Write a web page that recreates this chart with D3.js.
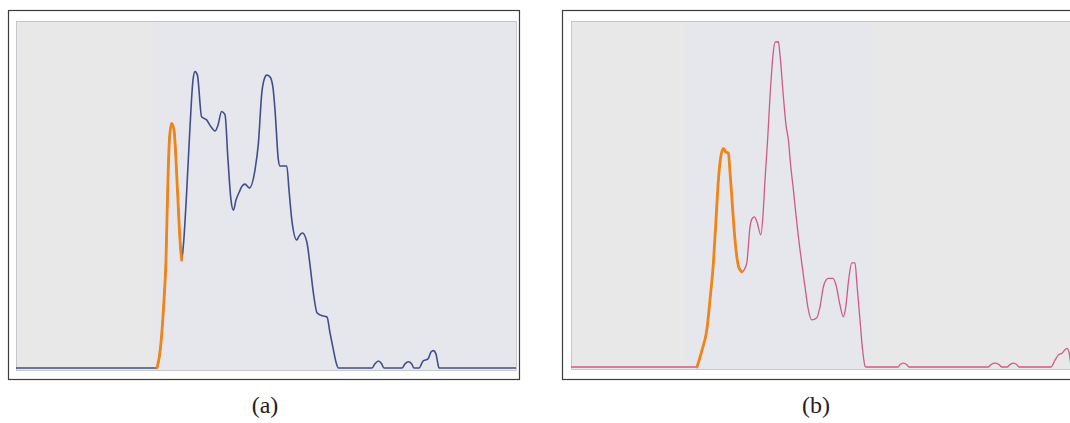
<!DOCTYPE html>
<html>
<head>
<meta charset="utf-8">
<script src="https://cdn.jsdelivr.net/npm/d3@7"></script>
<style>
  html, body { margin: 0; padding: 0; background: #ffffff; }
  svg { display: block; }
</style>
</head>
<body>
<svg id="chart" width="1070" height="423"></svg>
<script>
// Histogram (a): intensity bin and relative count
const binsA = [0, 70.5, 72.3, 74, 75, 75.8, 76.7, 77.8, 79, 80.8, 82, 82.8, 83.7, 85.3, 87, 88.5, 89.5, 90.7,
  92.8, 95.3, 97.5, 99.5, 101, 102.8, 104.5, 106, 107.5, 108.7, 110, 111.7, 113, 114.5, 116.7, 119.5, 121.2,
  122.9, 124, 125.4, 127, 128.5, 129.5, 131.2, 132, 135.4, 136.5, 137.9, 140.4, 141.5, 143.2, 145.4, 147,
  148.7, 150.5, 152, 155.5, 157, 158.7, 160, 161.2, 178, 179.5, 181.2, 182.8, 184, 193, 194.5, 196.2, 197.8,
  199, 201.5, 203.5, 206, 207.5, 208.7, 210, 210.8, 211.5, 250];
const countsA = [0, 0, 6.1, 19.6, 31.1, 50.4, 65.7, 70.5, 68.6, 50.4, 36.9, 31.1, 35.4, 50.4, 69.5, 83, 85.4, 84.4,
  72.4, 71.5, 69.5, 68.3, 70, 73.9, 73, 59.9, 48.4, 45.5, 48.4, 50.8, 52.4, 53, 51.9, 57.1, 64.8,
  79.3, 83, 84.4, 83.9, 80.7, 74.4, 59.9, 58.2, 58.2, 51.3, 42.7, 36.9, 38, 38.9, 36.4, 29.7,
  21.6, 15.9, 15.3, 14.7, 10.1, 5.2, 1.7, 0, 0, 1.2, 2, 1.2, 0, 0, 1.2, 1.8, 1.2,
  0, 0, 2, 2.6, 4.6, 5, 4, 1.7, 0, 0];

// Histogram (b)
const binsB = [0, 63, 65.5, 67.9, 69.5, 71.2, 72.5, 73.7, 74.8, 76.2, 77.5, 78.7, 79.5, 80.4, 81.5, 82.9, 84, 85.4,
  86.5, 87.9, 89.5, 90.5, 91.7, 93, 94.9, 96, 97, 98.3, 99.5, 101, 102, 103.7, 104.5, 106.2, 107.5, 108.7,
  109.8, 111.2, 112.5, 113.7, 115.5, 117, 118.5, 120.4, 122.9, 124.5, 126.2, 127.5, 128.7, 131, 132.5,
  134.5, 136.2, 137.5, 138.8, 140.4, 142, 143, 144.5, 145.8, 147, 147.5, 163.5, 164.5, 166.2, 167.8, 169,
  208.5, 210, 212, 214, 215.5, 218, 219.5, 221.2, 222.8, 224, 240, 242, 243.7, 245.5, 247.9, 249, 250];
const countsB = [0, 0, 4.9, 10.7, 19.4, 30.1, 42.5, 54, 60.4, 63.2, 62.1, 61.8, 56.4, 49.2, 40.2, 31.9, 28.6, 27.5,
  28, 30.1, 40.5, 42.8, 43.4, 41.9, 38.2, 43.9, 54, 65.6, 78.1, 90.2, 93.9, 94, 90.2, 78.1, 69.9, 65.6,
  58.4, 51.2, 43.9, 37.7, 29.5, 23.2, 17.1, 13.6, 14.2, 17.4, 23.2, 25.1, 25.6, 25.6, 23.7,
  17.9, 14.5, 17.9, 25.1, 30.1, 30.1, 23.7, 13.6, 4.9, 0.3, 0, 0, 0.7, 1.1, 0.7, 0,
  0, 0.7, 1.1, 0.7, 0, 0, 0.7, 1.1, 0.7, 0, 0, 2, 3.5, 4, 5.4, 4.3, 0];

// Bin interval of the highlighted first mode in each histogram
const highlightA = [70.5, 82.8];
const highlightB = [63, 85.4];

const panelLabels = ["(a)", "(b)"];
const binDomain = [0, 250];
const countDomain = [0, 100];

const svg = d3.select("#chart");

const panels = [
  { bins: binsA, counts: countsA, hl: highlightA, color: "#434d8c", width: 1.6,
    frame: { x: 8, y: 10, w: 511, h: 369 }, plot: { x: 16, y: 21, w: 500, h: 347 }, labelX: 265,
    tones: [{ from: 0, to: 68.5, fill: "#e8e8e8" }, { from: 68.5, to: 250, fill: "#e5e7ed" }] },
  { bins: binsB, counts: countsB, hl: highlightB, color: "#cd5c80", width: 1.3,
    frame: { x: 562, y: 10, w: 520, h: 369 }, plot: { x: 571, y: 21, w: 500, h: 346 }, labelX: 816,
    tones: [{ from: 0, to: 57.5, fill: "#e8e8e8" }, { from: 57.5, to: 150, fill: "#e5e7ed" }, { from: 150, to: 250, fill: "#e8e8e8" }] }
];

panels.forEach((p, i) => {
  const x = d3.scaleLinear().domain(binDomain).range([p.plot.x, p.plot.x + p.plot.w]);
  const y = d3.scaleLinear().domain(countDomain).range([p.plot.y + p.plot.h, p.plot.y]);

  // outer frame
  svg.append("rect")
    .attr("x", p.frame.x + 0.5).attr("y", p.frame.y + 0.5)
    .attr("width", p.frame.w).attr("height", p.frame.h)
    .attr("fill", "#ffffff").attr("stroke", "#3c3c3c").attr("stroke-width", 1.2);

  // plot background
  const bg = svg.append("g");
  p.tones.forEach(t => {
    bg.append("rect")
      .attr("x", x(t.from)).attr("y", p.plot.y)
      .attr("width", x(t.to) - x(t.from)).attr("height", p.plot.h + 2)
      .attr("fill", t.fill);
  });
  bg.append("rect")
    .attr("x", p.plot.x + 0.5).attr("y", p.plot.y + 0.5)
    .attr("width", p.plot.w).attr("height", p.plot.h + 2)
    .attr("fill", "none").attr("stroke", "#bcbec4").attr("stroke-width", 0.8);

  const pts = p.bins.map((b, k) => [b, p.counts[k]]);
  const line = d3.line()
    .x(d => x(d[0])).y(d => y(d[1]))
    .curve(d3.curveMonotoneX);

  svg.append("path")
    .datum(pts)
    .attr("d", line)
    .attr("fill", "none")
    .attr("stroke", p.color)
    .attr("stroke-width", p.width)
    .attr("stroke-linejoin", "round");

  // first mode drawn in orange
  const hlPts = pts.filter(d => d[0] >= p.hl[0] && d[0] <= p.hl[1]);
  svg.append("path")
    .datum(hlPts)
    .attr("d", line)
    .attr("fill", "none")
    .attr("stroke", "#ef8519")
    .attr("stroke-width", 2.8)
    .attr("stroke-linejoin", "round")
    .attr("stroke-linecap", "round");

  svg.append("text")
    .attr("x", p.labelX).attr("y", 413)
    .attr("text-anchor", "middle")
    .attr("font-family", "'Liberation Serif', 'DejaVu Serif', serif")
    .attr("font-size", 24)
    .attr("fill", "#222")
    .text(panelLabels[i]);
});
</script>
</body>
</html>
